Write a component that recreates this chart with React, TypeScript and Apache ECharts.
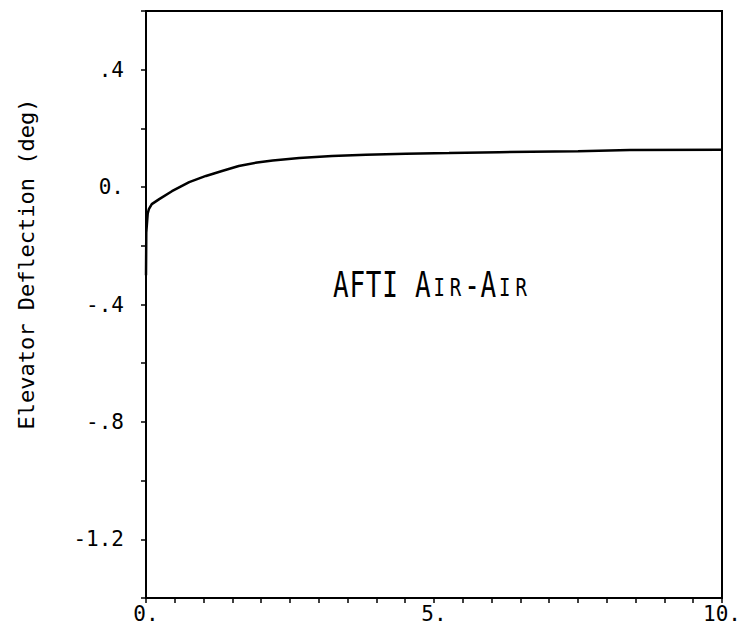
import React, { useEffect, useRef } from "react";
import * as echarts from "echarts";

// Time (s) and elevator deflection (deg)
const timeValues = [0, 0.005, 0.03, 0.05, 0.1, 0.23, 0.45, 0.75, 1.04, 1.32, 1.61, 1.93, 2.2, 2.66, 3.23, 3.82, 4.51, 5.26, 6.13, 7.5, 8.4, 10];
const deflectionValues = [-0.3, -0.155, -0.09, -0.075, -0.058, -0.041, -0.014, 0.017, 0.038, 0.055, 0.072, 0.084, 0.091, 0.099, 0.106, 0.11, 0.114, 0.116, 0.119, 0.122, 0.126, 0.127];

const yLabelValues = [0.4, 0, -0.4, -0.8, -1.2];
const yLabelTexts = [".4", "0.", "-.4", "-.8", "-1.2"];
const xLabelValues = [0, 5, 10];
const xLabelTexts = ["0.", "5.", "10."];

const yTitle = "Elevator Deflection (deg)";
const MONO = "'DejaVu Sans Mono', 'Liberation Mono', monospace";

function lookup(v: number, vals: number[], texts: string[]) {
  for (let i = 0; i < vals.length; i++) {
    if (Math.abs(v - vals[i]) < 1e-6) return texts[i];
  }
  return "";
}

export default function App() {
  const ref = useRef<HTMLDivElement>(null);
  useEffect(() => {
    if (!ref.current) return;
    const chart = echarts.init(ref.current, undefined, { renderer: "svg" });
    const data = timeValues.map((t, i) => [t, deflectionValues[i]]);
    const big = { fontFamily: MONO, fontSize: 26, lineHeight: 26, width: 16.4, align: "center", verticalAlign: "bottom", color: "#000" };
    const small = { fontFamily: MONO, fontSize: 19, lineHeight: 19, width: 16.4, align: "center", verticalAlign: "bottom", color: "#000", padding: [0, 0, 1, 0] };
    const word = "{b|A}{b|F}{b|T}{b|I}{b| }{b|A}{s|I}{s|R}{b|-}{b|A}{s|I}{s|R}";
    chart.setOption({
      animation: false,
      backgroundColor: "#fff",
      grid: { left: 146, right: 22, top: 11, bottom: 28, show: true, borderColor: "#000", borderWidth: 2, backgroundColor: "transparent" },
      xAxis: {
        type: "value",
        min: 0,
        max: 10,
        interval: 0.5,
        axisLine: { show: true, onZero: false, lineStyle: { color: "#000", width: 2 } },
        axisTick: { show: true, inside: false, length: 5, lineStyle: { color: "#000", width: 1.5 } },
        splitLine: { show: false },
        axisLabel: {
          show: true,
          margin: 5,
          showMinLabel: true,
          showMaxLabel: true,
          color: "#000",
          fontFamily: MONO,
          fontSize: 21,
          formatter: (v: number) => lookup(v, xLabelValues, xLabelTexts),
        },
      },
      yAxis: {
        type: "value",
        min: -1.4,
        max: 0.6,
        interval: 0.2,
        axisLine: { show: true, onZero: false, lineStyle: { color: "#000", width: 2 } },
        axisTick: { show: true, inside: false, length: 5, lineStyle: { color: "#000", width: 1.5 } },
        splitLine: { show: false },
        axisLabel: {
          show: true,
          margin: 22,
          showMinLabel: true,
          showMaxLabel: true,
          color: "#000",
          fontFamily: MONO,
          fontSize: 21,
          formatter: (v: number) => lookup(v, yLabelValues, yLabelTexts),
        },
      },
      series: [
        {
          type: "line",
          data,
          showSymbol: false,
          symbol: "none",
          smooth: false,
          lineStyle: { color: "#000", width: 2.5 },
        },
      ],
      graphic: [
        {
          type: "text",
          x: 26,
          y: 264,
          rotation: Math.PI / 2,
          style: { text: yTitle, font: `22px ${MONO}`, fill: "#000", align: "center", verticalAlign: "middle" },
        },
        {
          type: "text",
          x: 431,
          y: 284,
          scaleY: 1.35,
          style: { text: word, align: "center", verticalAlign: "middle", rich: { b: big, s: small } },
        },
      ],
    });
    return () => chart.dispose();
  }, []);
  return <div ref={ref} style={{ position: "fixed", left: 0, top: 0, width: 744, height: 626 }} />;
}
